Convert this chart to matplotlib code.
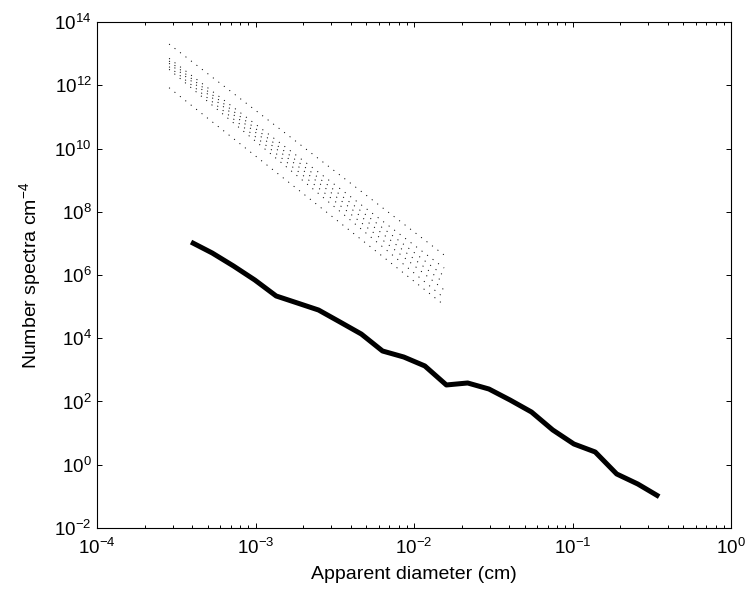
import numpy as np
import matplotlib
matplotlib.use('Agg')
import matplotlib.pyplot as plt
from matplotlib.ticker import LogLocator, NullLocator

plt.rcParams['font.family'] = ['Liberation Sans', 'DejaVu Sans']
plt.rcParams['mathtext.default'] = 'regular'
plt.rcParams['axes.unicode_minus'] = False

# measured spectrum (thick line)
diam = [3.92e-4, 5.33e-4, 7.26e-4, 9.9e-4, 1.35e-3, 1.84e-3, 2.50e-3, 3.41e-3,
        4.65e-3, 6.33e-3, 8.62e-3, 1.17e-2, 1.60e-2, 2.18e-2, 2.97e-2, 4.04e-2,
        5.51e-2, 7.50e-2, 0.102, 0.139, 0.190, 0.258, 0.352]
spec = [1.1e7, 4.97e6, 1.93e6, 6.95e5, 2.17e5, 1.30e5, 7.8e4, 3.27e4,
        1.36e4, 3.95e3, 2.55e3, 1.33e3, 333, 385, 248, 111,
        46.5, 12.6, 4.53, 2.53, 0.51, 0.246, 0.098]

# model spectra (dotted lines), start/end values
model_d = [2.85e-4, 1.55e-2]
model_start = [2.01e13, 7.1e12, 5.85e12, 4.94e12, 3.86e12, 3.19e12, 8.37e11]
model_end = [4.29e6, 1.66e6, 9.3e5, 5.58e5, 3.36e5, 1.87e5, 1.12e5]

fig = plt.figure(figsize=(7.49, 5.89), dpi=100)
ax = fig.add_axes([0.1295, 0.1036, 0.8465, 0.859])

for s, e in zip(model_start, model_end):
  ax.plot(model_d, [s, e], color='black', lw=0.7, linestyle=(0, (1.1, 6)))

ax.plot(diam, spec, color='black', lw=3.6, solid_joinstyle='round', solid_capstyle='butt')

ax.set_xscale('log')
ax.set_yscale('log')
ax.set_xlim(1e-4, 1)
ax.set_ylim(1e-2, 1e14)
ax.set_yticks([10.0**k for k in range(-2, 15, 2)])
ax.yaxis.set_minor_locator(NullLocator())
ax.xaxis.set_major_locator(LogLocator(base=10, numticks=10))
ax.xaxis.set_minor_locator(LogLocator(base=10, subs=np.arange(2, 10), numticks=10))

ax.tick_params(which='both', direction='in', top=True, right=True, labelsize=13.5, width=0.7)
ax.tick_params(which='major', length=3.6)
ax.tick_params(which='minor', length=2)
ax.tick_params(axis='x', which='major', pad=7)
ax.tick_params(axis='y', which='major', pad=4)
for sp in ax.spines.values():
  sp.set_linewidth(0.8)

ax.set_xlabel('Apparent diameter (cm)', fontsize=14, labelpad=6)
ax.set_ylabel('Number spectra cm$^{-4}$', fontsize=14, labelpad=8)

fig.savefig('out.png', dpi=100)
